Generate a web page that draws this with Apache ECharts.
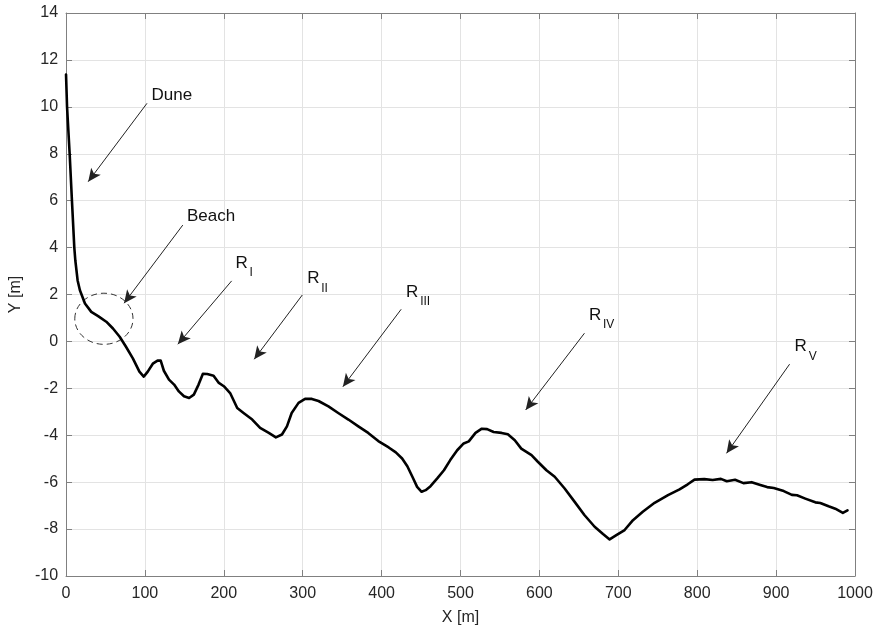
<!DOCTYPE html>
<html>
<head>
<meta charset="utf-8">
<script src="https://cdn.jsdelivr.net/npm/echarts@6/dist/echarts.min.js"></script>
<style>
html,body{margin:0;padding:0;background:#fff;}
#chart{width:880px;height:633px;}
</style>
</head>
<body>
<div id="chart"></div>
<script>
// Profile: cross-shore distance X [m] and elevation Y [m]
const distX = [0, 1.3, 4.6, 7.5, 10.5, 11.8, 13.3, 14.7, 17.6, 24, 32, 40.7, 51, 59.5, 68, 76, 84.7, 93, 98.5,
  103.6, 110, 116, 120, 124, 130.5, 137, 143, 149.5, 156, 162, 168, 173.5, 179, 187, 193.7, 200, 208, 217,
  225, 236, 246, 257, 266, 273.7, 280, 286, 294.7, 303, 311.6, 320, 332.6, 345, 357.9, 370.5, 383, 395.8,
  409, 418, 426, 432.6, 439, 445, 450.7, 455.8, 462, 470.5, 479, 487, 495.8, 504, 510.5, 519, 527, 533.7,
  542, 552, 560, 568.8, 577, 590, 598, 608.9, 619.4, 632, 644.7, 657, 670, 680.6, 689, 697.5, 708, 718.6,
  731, 746, 763, 777.6, 788, 796.6, 809, 819.6, 830, 837.5, 848, 858.6, 869, 880, 888.6, 897, 909.7, 920,
  926.5, 937, 949.7, 956, 966.5, 975, 984.6, 990.5];
const depthY = [11.38, 10.0, 8.0, 6.0, 4.0, 3.45, 3.4, 2.6, 2.18, 1.62, 1.26, 1.08, 0.84, 0.55, 0.2, -0.23, -0.72, -1.29, -1.5,
  -1.29, -0.95, -0.82, -0.82, -1.25, -1.63, -1.84, -2.13, -2.34, -2.41, -2.27, -1.84, -1.38, -1.39, -1.46, -1.77, -1.91, -2.2, -2.84,
  -3.05, -3.33, -3.69, -3.9, -4.09, -3.97, -3.62, -3.05, -2.62, -2.45, -2.45, -2.54, -2.77, -3.05, -3.33, -3.62, -3.9, -4.25,
  -4.52, -4.73, -4.99, -5.32, -5.77, -6.2, -6.41, -6.34, -6.17, -5.84, -5.49, -5.06, -4.64, -4.35, -4.26, -3.9, -3.72, -3.74,
  -3.86, -3.9, -3.96, -4.21, -4.57, -4.85, -5.13, -5.49, -5.77, -6.27, -6.84, -7.4, -7.9, -8.21, -8.44, -8.26, -8.04, -7.62,
  -7.26, -6.88, -6.55, -6.31, -6.09, -5.89, -5.87, -5.91, -5.86, -5.96, -5.9, -6.04, -6.0, -6.12, -6.21, -6.25, -6.38, -6.54,
  -6.56, -6.7, -6.86, -6.89, -7.03, -7.13, -7.31, -7.2];

// Axis ticks
const xTicks = [0, 100, 200, 300, 400, 500, 600, 700, 800, 900, 1000];
const yTicks = [-10, -8, -6, -4, -2, 0, 2, 4, 6, 8, 10, 12, 14];

// Annotations: label text, subscript, label centre [X, Y], arrow start, arrow tip
const annLabels = ['Dune', 'Beach', 'R', 'R', 'R', 'R', 'R'];
const annSubs = ['', '', 'I', 'II', 'III', 'IV', 'V'];
const annLabelPos = [[134.2, 10.5], [183.8, 5.32], [222.5, 3.34], [313.4, 2.69], [438.7, 2.11], [670.5, 1.13], [931.2, -0.22]];
const annArrowFrom = [[102.6, 10.15], [148.0, 4.96], [209.9, 2.58], [299.5, 1.98], [424.8, 1.37], [657.1, 0.35], [917.1, -0.97]];
const annArrowTo = [[28.1, 6.81], [73.6, 1.63], [141.7, -0.12], [238.5, -0.76], [350.9, -1.93], [582.6, -2.92], [837.2, -4.77]];
// Dashed beach ellipse: centre and radii in data units
const beachCircle = {center: [48.0, 0.965], rx: 36.9, ry: 1.09};

const chart = echarts.init(document.getElementById('chart'), null, {renderer: 'canvas'});
const FONT = '"Liberation Sans", Arial, Helvetica, sans-serif';
const axisCol = '#808080';
const labelCol = '#262626';

const profile = distX.map((x, i) => [x, depthY[i]]);

const option = {
  animation: false,
  backgroundColor: '#ffffff',
  grid: {left: 63, right: 25, top: 13, bottom: 57, containLabel: false},
  xAxis: [{
    type: 'value', min: xTicks[0], max: xTicks[xTicks.length - 1], interval: 100,
    name: 'X [m]', nameLocation: 'middle', nameGap: 34,
    nameTextStyle: {fontFamily: FONT, fontSize: 16, color: labelCol},
    axisLine: {show: true, onZero: false, lineStyle: {color: axisCol, width: 1}},
    axisTick: {show: true, inside: true, length: 6, lineStyle: {color: axisCol}},
    axisLabel: {fontFamily: FONT, fontSize: 16, color: labelCol, margin: 10, formatter: v => String(v)},
    splitLine: {show: true, lineStyle: {color: '#e3e3e3', width: 1}}
  }, {
    type: 'value', position: 'top', min: xTicks[0], max: xTicks[xTicks.length - 1], interval: 100,
    axisLine: {show: true, onZero: false, lineStyle: {color: axisCol, width: 1}},
    axisTick: {show: true, inside: true, length: 6, lineStyle: {color: axisCol}},
    axisLabel: {show: false}, splitLine: {show: false}
  }],
  yAxis: [{
    type: 'value', min: yTicks[0], max: yTicks[yTicks.length - 1], interval: 2,
    name: 'Y [m]', nameLocation: 'middle', nameGap: 40, nameRotate: 90,
    nameTextStyle: {fontFamily: FONT, fontSize: 16, color: labelCol},
    axisLine: {show: true, onZero: false, lineStyle: {color: axisCol, width: 1}},
    axisTick: {show: true, inside: true, length: 6, lineStyle: {color: axisCol}},
    axisLabel: {fontFamily: FONT, fontSize: 16, color: labelCol, margin: 8, formatter: v => String(v)},
    splitLine: {show: true, lineStyle: {color: '#e3e3e3', width: 1}}
  }, {
    type: 'value', position: 'right', min: yTicks[0], max: yTicks[yTicks.length - 1], interval: 2,
    axisLine: {show: true, onZero: false, lineStyle: {color: axisCol, width: 1}},
    axisTick: {show: true, inside: true, length: 6, lineStyle: {color: axisCol}},
    axisLabel: {show: false}, splitLine: {show: false}
  }],
  series: [{
    type: 'line',
    xAxisIndex: 0, yAxisIndex: 0,
    data: profile,
    showSymbol: false,
    symbol: 'none',
    lineStyle: {color: '#000000', width: 2.6, join: 'round', cap: 'round'},
    silent: true,
    markLine: {
      silent: true,
      animation: false,
      symbol: ['none', 'arrow'],
      symbolSize: [9, 13],
      label: {show: false},
      lineStyle: {color: '#222222', width: 1, type: 'solid'},
      emphasis: {disabled: true},
      data: annArrowFrom.map((s, i) => [{coord: s}, {coord: annArrowTo[i]}])
    }
  }]
};
chart.setOption(option);

function drawAnnotations() {
  const g = [];
  annLabels.forEach((t, i) => {
    const p = chart.convertToPixel({gridIndex: 0}, annLabelPos[i]);
    g.push({
      type: 'text', x: p[0], y: p[1], silent: true,
      style: {text: t, fontFamily: FONT, fontSize: 17, fill: '#111111', align: 'center', verticalAlign: 'middle'}
    });
    if (annSubs[i]) {
      g.push({
        type: 'text', x: p[0] + 8, y: p[1] + 10, silent: true,
        style: {text: annSubs[i], fontFamily: FONT, fontSize: 12, fill: '#111111', align: 'left', verticalAlign: 'middle'}
      });
    }
  });
  const c = chart.convertToPixel({gridIndex: 0}, beachCircle.center);
  const cx2 = chart.convertToPixel({gridIndex: 0}, [beachCircle.center[0] + beachCircle.rx, beachCircle.center[1] + beachCircle.ry]);
  g.push({
    type: 'ellipse', silent: true,
    shape: {cx: c[0], cy: c[1], rx: Math.abs(cx2[0] - c[0]), ry: Math.abs(cx2[1] - c[1])},
    style: {fill: 'none', stroke: '#333333', lineWidth: 1, lineDash: [6, 4]}
  });
  chart.setOption({graphic: g});
}
drawAnnotations();
</script>
</body>
</html>
